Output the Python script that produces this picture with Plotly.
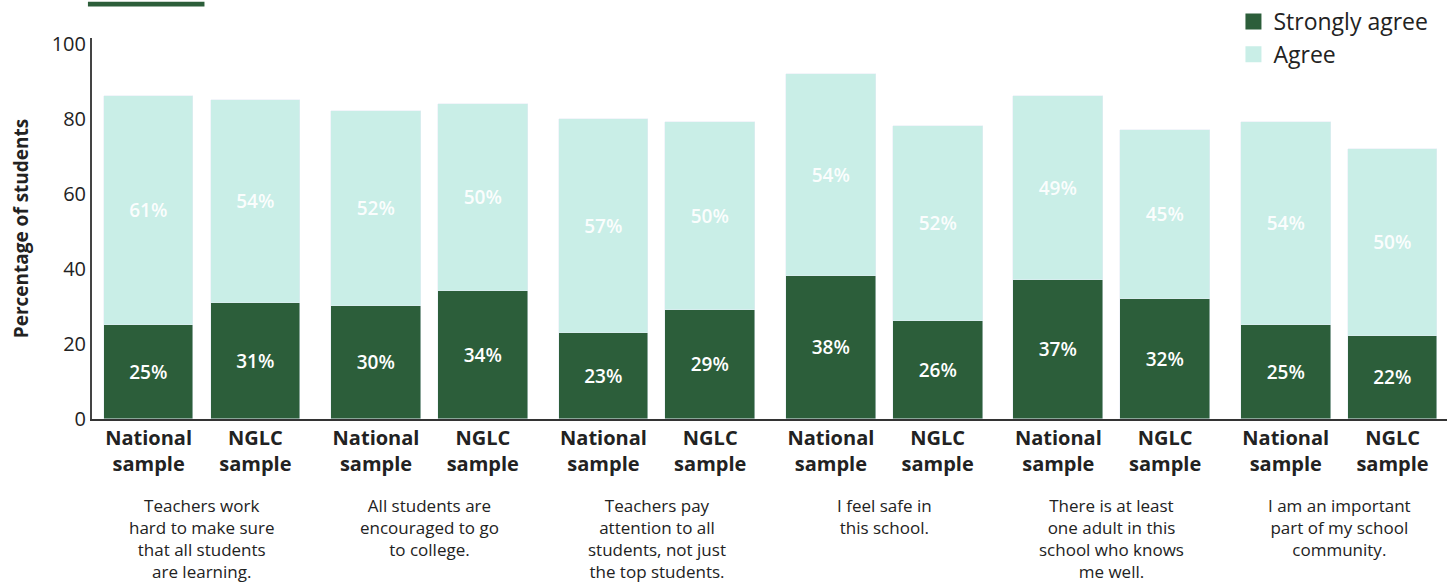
import plotly.graph_objects as go

statements = [
    "Teachers work<br>hard to make sure<br>that all students<br>are learning.",
    "All students are<br>encouraged to go<br>to college.",
    "Teachers pay<br>attention to all<br>students, not just<br>the top students.",
    "I feel safe in<br>this school.",
    "There is at least<br>one adult in this<br>school who knows<br>me well.",
    "I am an important<br>part of my school<br>community.",
]
samples = ["National<br>sample", "NGLC<br>sample"]
strongly_agree = [25, 31, 30, 34, 23, 29, 38, 26, 37, 32, 25, 22]
agree = [61, 54, 52, 50, 57, 50, 54, 52, 49, 45, 54, 50]
series_names = ["Strongly agree", "Agree"]

GROUP_STEP = 2.13
xs = []
ticks = []
for g in range(len(statements)):
    for m in range(len(samples)):
        xs.append(g * GROUP_STEP + m)
        ticks.append("<b>" + samples[m] + "</b>")

DARK = "#2c5e3a"
LIGHT = "#c9eee7"
FONT = "Open Sans"

fig = go.Figure()
for vals, name, col, tcol in [
    (strongly_agree, series_names[0], DARK, "white"),
    (agree, series_names[1], LIGHT, "rgba(255,255,255,0.95)"),
]:
    fig.add_trace(go.Bar(
        x=xs, y=vals, name=name, marker_color=col, showlegend=False,
        width=0.84, text=[f"{v}%" for v in vals], textposition="inside",
        insidetextanchor="middle", textangle=0, constraintext="none",
        textfont=dict(size=19, color=tcol, family=FONT, weight=600),
    ))

# legend entries with larger square swatches
for name, col in [(series_names[0], DARK), (series_names[1], LIGHT)]:
    fig.add_trace(go.Scatter(
        x=[None], y=[None], mode="markers", name=name,
        marker=dict(symbol="square", size=18, color=col),
    ))

for g, s in enumerate(statements):
    fig.add_annotation(
        x=g * GROUP_STEP + 0.5, xref="x", y=0, yref="paper", yanchor="top",
        yshift=-73, text=s, showarrow=False, align="center",
        font=dict(size=17, color="#222", family=FONT),
    )

fig.add_shape(type="rect", xref="paper", yref="paper",
              x0=-0.003, x1=0.083, y0=1.083, y1=1.095,
              fillcolor=DARK, line_width=0)

fig.update_layout(
    width=1447, height=588, barmode="stack", bargap=0,
    margin=dict(l=92, r=0, t=35, b=169),
    plot_bgcolor="white", paper_bgcolor="white",
    font=dict(family=FONT, color="#222"),
    showlegend=True,
    legend=dict(x=0.99, xanchor="right", y=1.1, yanchor="top",
                traceorder="normal", font=dict(size=23, color="#222"),
                bgcolor="rgba(0,0,0,0)", itemwidth=30, tracegroupgap=0),
    xaxis=dict(range=[-0.53, 12.16], tickvals=xs, ticktext=ticks,
               showline=True, linecolor="#333", linewidth=2,
               showgrid=False, zeroline=False, ticks="",
               tickfont=dict(size=20, color="#222", family=FONT)),
    yaxis=dict(range=[0, 101.5], tickvals=[0, 20, 40, 60, 80, 100],
               showline=True, linecolor="#444", linewidth=2,
               showgrid=False, zeroline=False, ticks="",
               tickfont=dict(size=20, color="#222", family=FONT),
               title=dict(text="<b>Percentage of students</b>",
                          font=dict(size=19, color="#222", family=FONT),
                          standoff=18)),
)

fig.write_html("out.html")
